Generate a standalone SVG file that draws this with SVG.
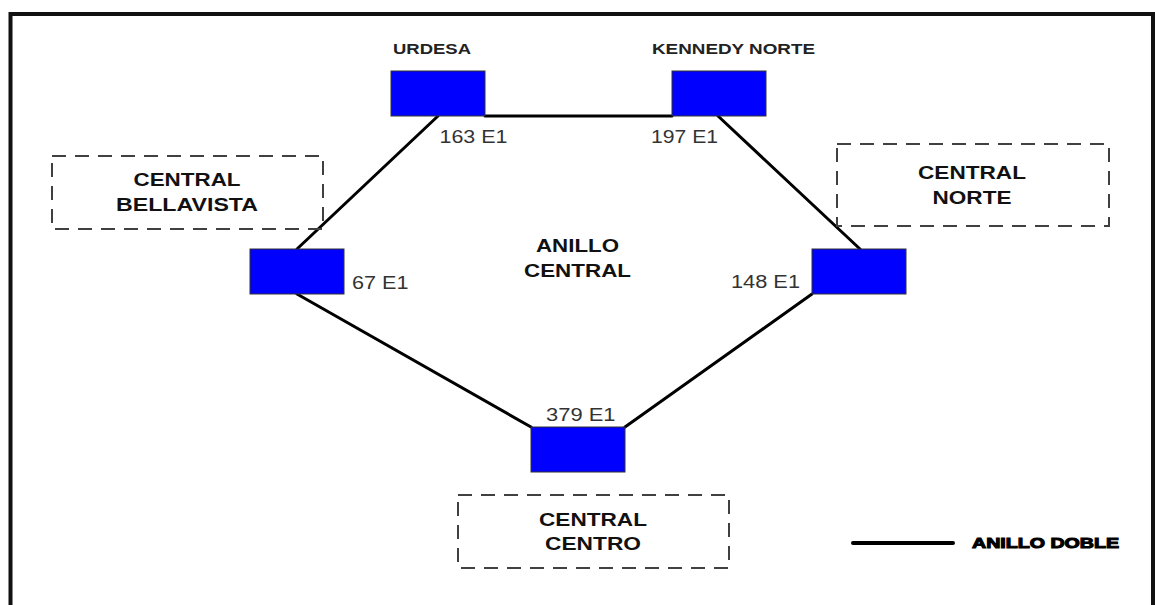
<svg xmlns="http://www.w3.org/2000/svg" width="1155" height="605" viewBox="0 0 1155 605">
<style>
.frame{fill:none;stroke:#111;stroke-width:4}
.node{fill:#0000FF;stroke:#333;stroke-width:1}
.link{stroke:#000;stroke-width:3;fill:none;stroke-linecap:round}
.dash{fill:none;stroke:#404040;stroke-width:2;stroke-dasharray:14 9}
.title{font-family:"Liberation Sans",Arial,sans-serif;font-weight:bold;font-size:19px;fill:#111;text-anchor:middle}
.name{font-family:"Liberation Sans",Arial,sans-serif;font-weight:bold;font-size:15px;fill:#222}
.lbl{font-family:"Liberation Sans",Arial,sans-serif;font-size:18px;fill:#333}
.legend{font-family:"Liberation Sans",Arial,sans-serif;font-weight:bold;font-size:14px;fill:#000;stroke:#000;stroke-width:1}
</style>
<rect class="frame" x="10.5" y="14" width="1142.5" height="700"/>
<g id="connectors">
<line class="link" x1="485" y1="116" x2="672" y2="116"/>
<line class="link" x1="438" y1="116" x2="297" y2="249"/>
<line class="link" x1="718" y1="116" x2="860" y2="249"/>
<line class="link" x1="297" y1="294" x2="531" y2="427"/>
<line class="link" x1="812" y1="294" x2="625" y2="427"/>
</g>
<g id="zone-bellavista">
<rect class="dash" x="52" y="156" width="271" height="73"/>
<text class="title" x="187" y="186" textLength="107" lengthAdjust="spacingAndGlyphs">CENTRAL</text>
<text class="title" x="187" y="211" textLength="142" lengthAdjust="spacingAndGlyphs">BELLAVISTA</text>
</g>
<g id="zone-norte">
<rect class="dash" x="837" y="144" width="272" height="82"/>
<text class="title" x="972" y="179" textLength="108" lengthAdjust="spacingAndGlyphs">CENTRAL</text>
<text class="title" x="972" y="203.5" textLength="79" lengthAdjust="spacingAndGlyphs">NORTE</text>
</g>
<g id="zone-centro">
<rect class="dash" x="458" y="495" width="271" height="73"/>
<text class="title" x="593" y="526" textLength="108" lengthAdjust="spacingAndGlyphs">CENTRAL</text>
<text class="title" x="593" y="550" textLength="96" lengthAdjust="spacingAndGlyphs">CENTRO</text>
</g>
<g id="ring-label">
<text class="title" x="577.5" y="252" textLength="83" lengthAdjust="spacingAndGlyphs">ANILLO</text>
<text class="title" x="577.5" y="277" textLength="107" lengthAdjust="spacingAndGlyphs">CENTRAL</text>
</g>
<g id="node-urdesa">
<text class="name" x="393" y="53.5" textLength="78" lengthAdjust="spacingAndGlyphs">URDESA</text>
<rect class="node" x="391" y="71" width="94" height="45"/>
<text class="lbl" x="439.5" y="142.5" textLength="68" lengthAdjust="spacingAndGlyphs">163 E1</text>
</g>
<g id="node-kennedy">
<text class="name" x="652" y="53.5" textLength="163" lengthAdjust="spacingAndGlyphs">KENNEDY NORTE</text>
<rect class="node" x="672" y="71" width="94" height="45"/>
<text class="lbl" x="651" y="142.5" textLength="67" lengthAdjust="spacingAndGlyphs">197 E1</text>
</g>
<g id="node-bellavista">
<rect class="node" x="250" y="249" width="94" height="45"/>
<text class="lbl" x="352" y="288.5" textLength="56.5" lengthAdjust="spacingAndGlyphs">67 E1</text>
</g>
<g id="node-norte">
<rect class="node" x="812" y="249" width="94" height="45"/>
<text class="lbl" x="731" y="288" textLength="69" lengthAdjust="spacingAndGlyphs">148 E1</text>
</g>
<g id="node-centro">
<rect class="node" x="531" y="427" width="94" height="45"/>
<text class="lbl" x="546" y="421" textLength="69.5" lengthAdjust="spacingAndGlyphs">379 E1</text>
</g>
<g id="legend">
<line x1="853" y1="543" x2="953" y2="543" stroke="#000" stroke-width="4" stroke-linecap="round"/>
<text class="legend" x="972" y="548" textLength="147" lengthAdjust="spacingAndGlyphs">ANILLO DOBLE</text>
</g>
</svg>
